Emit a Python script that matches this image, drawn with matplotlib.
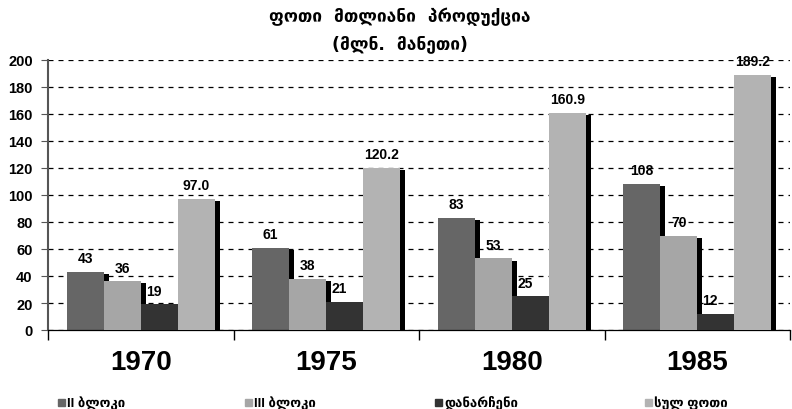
import numpy as np
import matplotlib
matplotlib.use('Agg')
import matplotlib.pyplot as plt
import matplotlib.patheffects as pe
from matplotlib.patches import Rectangle

# data
years = ['1970', '1975', '1980', '1985']
series_names = ['II ბლოკი', 'III ბლოკი', 'დანარჩენი', 'სულ ფოთი']
block2 = [43, 61, 83, 108]
block3 = [36, 38, 53, 70]
others = [19, 21, 25, 12]
total = [97.0, 120.2, 160.9, 189.2]
series = [block2, block3, others, total]
label_fmt = ['{:.0f}', '{:.0f}', '{:.0f}', '{:.1f}']
colors = ['#666666', '#a6a6a6', '#333333', '#b3b3b3']

plt.rcParams['font.family'] = ['Liberation Sans', 'DejaVu Sans']
plt.rcParams['font.weight'] = 'bold'

fig = plt.figure(figsize=(7.92, 4.10), dpi=100)
ax = fig.add_axes([48 / 792, 1 - 331 / 410, (790 - 48) / 792, 270 / 410])

x = np.arange(len(years))
w = 0.2
shadow = [pe.SimplePatchShadow(offset=(3.5, -1.5), shadow_rgbFace='black', alpha=1.0), pe.Normal()]
label_dx = [0, 0, -0.03, 0]

for i, vals in enumerate(series):
    pos = x - 0.3 + i * w
    bars = ax.bar(pos, vals, width=w, color=colors[i], zorder=2 + i)
    for b in bars:
        b.set_path_effects(shadow)
    for p, v in zip(pos, vals):
        ax.text(p + label_dx[i], v + 5, label_fmt[i].format(v), ha='center', va='bottom',
                fontsize=10, fontweight='bold', zorder=10)

ax.set_ylim(0, 200)
ax.set_xlim(-0.5, 3.434)
ax.set_yticks(range(0, 201, 20))
ax.yaxis.grid(True, linestyle=(0, (4, 4)), color='black', linewidth=0.9)
ax.set_axisbelow(True)

ax.set_xticks(x)
ax.set_xticklabels(years, fontsize=20, fontweight='bold')
ax.set_xticks([-0.5, 0.5, 1.5, 2.5, 3.5], minor=True)
ax.tick_params(axis='x', which='major', length=0, pad=14)
ax.tick_params(axis='x', which='minor', length=7, width=1, color='black')
ax.tick_params(axis='y', length=5, color='#555555', labelsize=10.5, pad=6)
for lab in ax.get_yticklabels():
    lab.set_fontweight('bold')

for s in ['top', 'right']:
    ax.spines[s].set_visible(False)
ax.spines['left'].set_color('#555555')
ax.spines['left'].set_linewidth(1.5)
ax.spines['bottom'].set_color('black')
ax.spines['bottom'].set_linewidth(0.9)

# title
fig.text(0.505, 1 - 17 / 410, 'ფოთი  მთლიანი  პროდუქცია', ha='center', va='center',
         fontsize=12.5, fontweight='bold', family=['DejaVu Sans'])
fig.text(0.505, 1 - 44 / 410, '(მლნ.  მანეთი)', ha='center', va='center',
         fontsize=12.5, fontweight='bold', family=['DejaVu Sans'])

# legend
leg_x = [58, 245, 435, 645]
for lx, name, c in zip(leg_x, series_names, colors):
    fig.add_artist(Rectangle((lx / 792, 1 - 407 / 410), 7 / 792, 7 / 410,
                             transform=fig.transFigure, color=c))
    fig.text((lx + 9) / 792, 1 - 403 / 410, name, ha='left', va='center',
             fontsize=9.5, fontweight='bold', family=['Liberation Sans', 'DejaVu Sans'])

fig.savefig('out.png', dpi=100)
